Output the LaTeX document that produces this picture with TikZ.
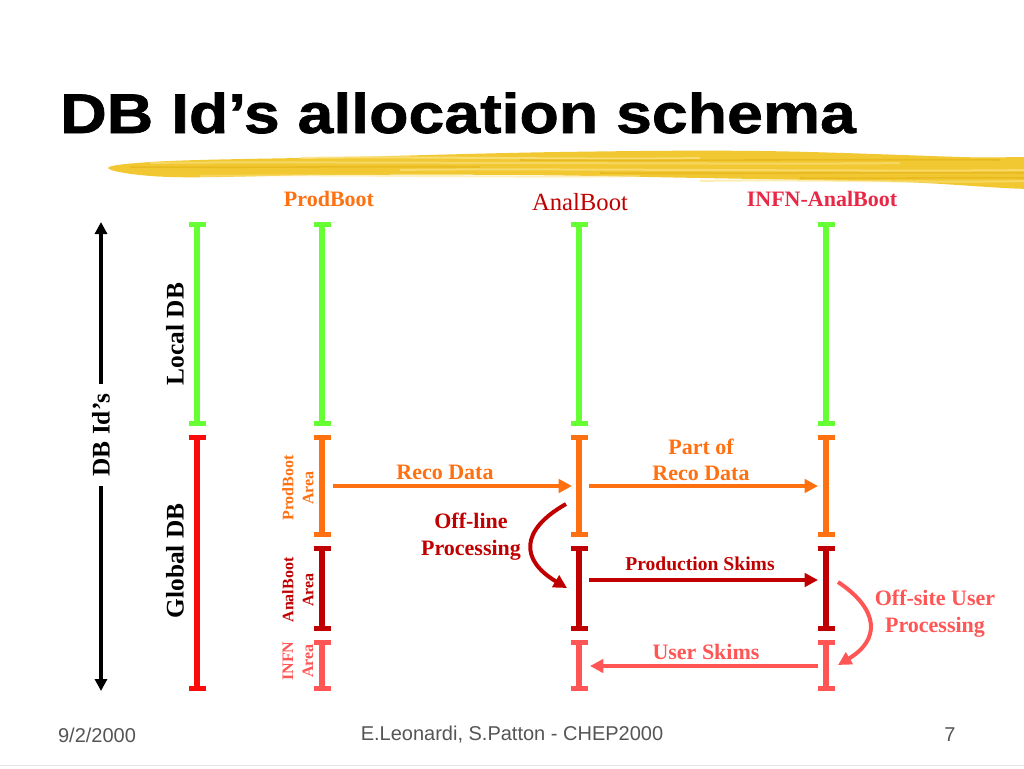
\documentclass[tikz,border=0pt]{standalone}
\usepackage{fontspec}
\usepackage{tikz}
\usetikzlibrary{arrows.meta,positioning}
\setmainfont{Liberation Serif}
\newfontfamily\titlefont[FakeStretch=1.15,FakeBold=1.2]{Liberation Sans}
\newfontfamily\footfont{Liberation Sans}
\definecolor{localgreen}{RGB}{102,255,51}
\definecolor{globalred}{RGB}{250,10,10}
\definecolor{prodorange}{RGB}{255,112,16}
\definecolor{analred}{RGB}{192,0,0}
\definecolor{infnred}{RGB}{255,85,85}
\definecolor{infnhead}{RGB}{232,40,70}
\definecolor{markeryellow}{RGB}{242,200,50}
\definecolor{markerlight}{RGB}{250,226,130}
\definecolor{markerdark}{RGB}{228,178,20}
\definecolor{footgray}{RGB}{85,85,85}

\tikzset{
  seg/.style={line width=4pt, {Bar[width=12.75pt,line width=4pt]}-{Bar[width=12.75pt,line width=4pt]}},
  flow/.style={line width=3pt, -{Triangle[length=10pt,width=10pt]}},
  curvearrow/.style={line width=3pt, -{Triangle[length=10pt,width=10pt]}},
  lbl/.style={font=\bfseries\fontsize{16.5}{20}\selectfont, align=center, inner sep=1.5pt},
  side/.style={font=\bfseries\fontsize{19}{22}\selectfont, rotate=90},
  area/.style={font=\bfseries\fontsize{12}{15}\selectfont, align=center, rotate=90},
  foot/.style={font=\footfont\fontsize{15}{18}\selectfont, text=footgray}
}

\begin{document}
\begin{tikzpicture}[x=0.75pt, y=-0.75pt]
  \fill[white] (0,0) rectangle (1024,768);
  \useasboundingbox (0,0) rectangle (1024,768);

  % highlighter stroke under the title
  \fill[markeryellow] plot[smooth cycle, tension=0.6] coordinates {(108,168) (170,161) (350,157) (560,152) (760,151) (960,157) (1050,160) (1050,188) (900,182) (700,178) (520,175) (330,175) (170,177)};
  \foreach \y/\a/\b/\o in {158/300/700/0.8, 163/150/900/0.6, 170/400/1024/0.7, 176/200/640/0.5, 181/700/1024/0.6} {
    \draw[markerlight, line width=1.5pt, opacity=\o] (\a,\y) .. controls (\a+100,\y-2) and (\b-100,\y+2) .. (\b,\y);
  }
  \foreach \y/\a/\b in {160/520/1000, 167/130/480, 173/600/1024, 178/800/1024} {
    \draw[markerdark, line width=1.2pt, opacity=0.6] (\a,\y) .. controls (\a+100,\y+1) and (\b-100,\y-1) .. (\b,\y);
  }

  % title
  \node[anchor=base west, inner sep=0pt, font=\titlefont\bfseries\fontsize{42}{48}\selectfont] (title) at (60,133) {DB Id’s allocation schema};

  % column headers
  \node[font=\bfseries\fontsize{16.5}{20}\selectfont, text=prodorange] (prodhead) at (329,199) {ProdBoot};
  \node[font=\fontsize{18.5}{22}\selectfont, text=analred] (analhead) at (580,202) {AnalBoot};
  \node[font=\bfseries\fontsize{16.5}{20}\selectfont, text=infnhead] (infnheadnode) at (822,199) {INFN-AnalBoot};

  % left axis
  \coordinate (axis-top) at (101,222);
  \coordinate (axis-bot) at (101,691);
  \draw[line width=2.4pt, {Triangle[length=9pt,width=9pt]}-{Triangle[length=9pt,width=9pt]}] (axis-top) -- (axis-bot);
  \node[side, fill=white, inner xsep=7pt, inner ysep=4pt] (dbids) at (101,435) {DB Id’s};
  \node[side] (localdb) at (175,334) {Local DB};
  \node[side] (globaldb) at (175,561) {Global DB};

  % local and global bar
  \draw[seg, localgreen] (197,222) -- (197,426);
  \draw[seg, globalred] (197,435) -- (197,691);

  % the three boot columns
  \foreach \x in {322,579,826} {
    \draw[seg, localgreen] (\x,222) -- (\x,426);
    \draw[seg, prodorange] (\x,435) -- (\x,537);
    \draw[seg, analred] (\x,546) -- (\x,631);
    \draw[seg, infnred] (\x,640) -- (\x,691);
  }

  % area labels
  \node[area, text=prodorange] (prodarea) at (298,488) {ProdBoot\\Area};
  \node[area, text=analred] (analarea) at (298,590) {AnalBoot\\Area};
  \node[area, text=infnred] (infnarea) at (298,661) {INFN\\Area};

  % arrow ends
  \coordinate (reco-from) at (333,486);
  \coordinate (reco-to) at (572,486);
  \coordinate (part-from) at (589,486);
  \coordinate (part-to) at (818,486);
  \coordinate (skim-from) at (589,580);
  \coordinate (skim-to) at (818,580);
  \coordinate (user-from) at (818,666);
  \coordinate (user-to) at (590,666);
  \coordinate (offline-from) at (566,504);
  \coordinate (offline-to) at (567,588);
  \coordinate (offsite-from) at (838,582);
  \coordinate (offsite-to) at (838,665);

  \draw[flow, prodorange] (reco-from) -- (reco-to);
  \node[lbl, text=prodorange] (recolbl) at (445,472) {Reco Data};
  \draw[flow, prodorange] (part-from) -- (part-to);
  \node[lbl, text=prodorange] (partlbl) at (701,460) {Part of\\Reco Data};
  \draw[flow, analred] (skim-from) -- (skim-to);
  \node[lbl, text=analred, font=\bfseries\fontsize{14.7}{18}\selectfont] (skimlbl) at (700,564) {Production Skims};
  \draw[flow, infnred] (user-from) -- (user-to);
  \node[lbl, text=infnred] (userlbl) at (706,652) {User Skims};

  % curved processing arrows
  \draw[curvearrow, analred] (offline-from) .. controls (520,530) and (520,560) .. (offline-to);
  \node[lbl, text=analred] (offlinelbl) at (471,537) {Off-line\\Processing};
  \draw[curvearrow, infnred] (offsite-from) .. controls (880,610) and (880,640) .. (offsite-to);
  \node[lbl, text=infnred] (offsitelbl) at (935,614) {Off-site User\\Processing};

  % footer
  \node[foot] (date) at (97,735) {9/2/2000};
  \node[foot] (authors) at (512,735) {E.Leonardi, S.Patton - CHEP2000};
  \node[foot] (page) at (950,735) {7};
  \draw[black!10, line width=0.75pt] (0,765) -- (1024,765);
\end{tikzpicture}
\end{document}
